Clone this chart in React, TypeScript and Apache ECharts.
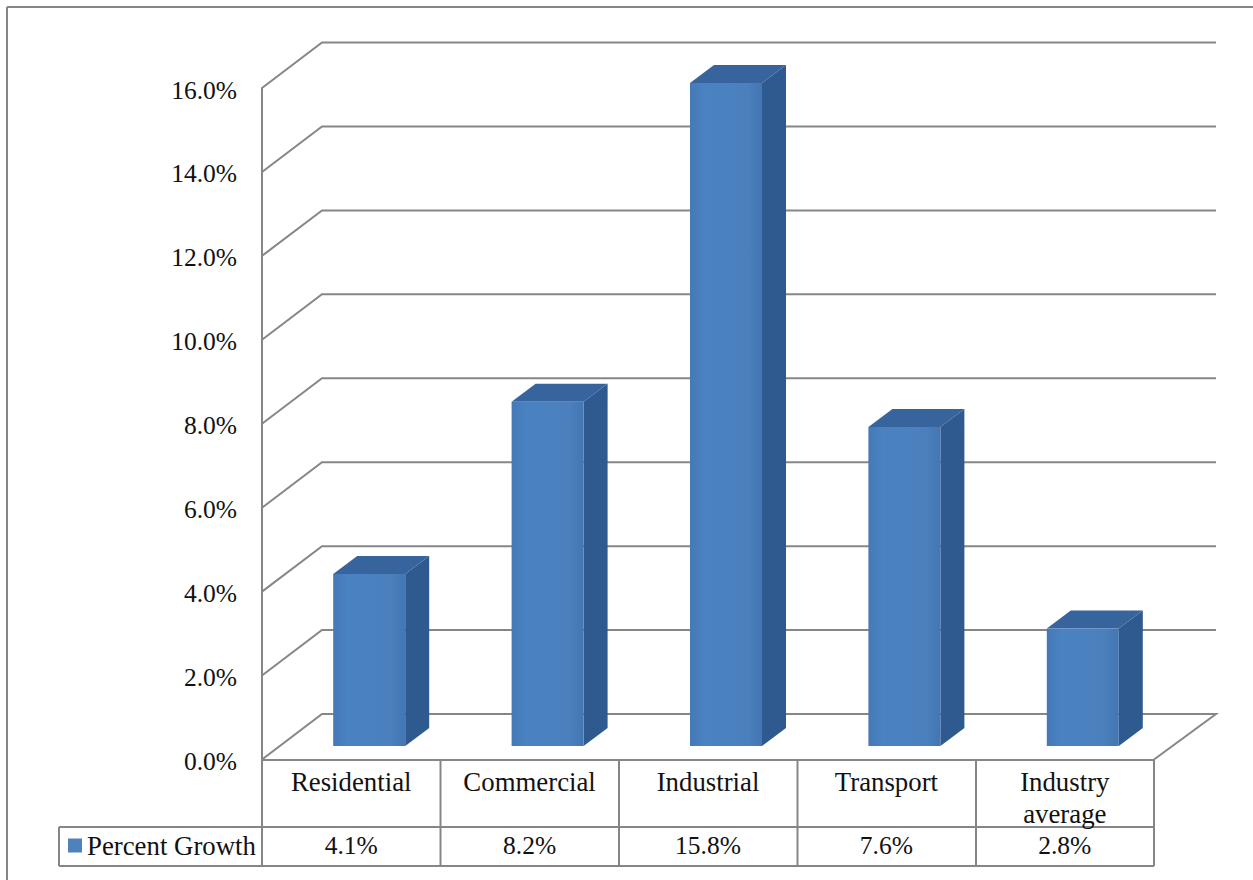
import React, { useEffect, useRef } from "react";
import * as echarts from "echarts";

const categories = ["Residential", "Commercial", "Industrial", "Transport", "Industry\naverage"];
const percentGrowth = [4.1, 8.2, 15.8, 7.6, 2.8];
const gridTicks = [0, 2, 4, 6, 8, 10, 12, 14, 16];
const seriesName = "Percent Growth";

const FONT = "'Liberation Serif', 'Times New Roman', serif";
const LINE = "#868686";
const WALL_DX = 60;
const WALL_DY = -45.5;

const tableRows: [number, number, number, number][] = [
  [59, 827, 1154, 827],
  [59, 866, 1154, 866],
  [59, 827, 59, 866],
  [262, 760, 262, 866],
  [440.5, 760, 440.5, 866],
  [619, 760, 619, 866],
  [797.5, 760, 797.5, 866],
  [976, 760, 976, 866],
  [1154, 760, 1154, 866],
];

function renderWall(params: any, api: any) {
  const v = api.value(0);
  const start = api.coord([0, v]);
  const left = params.coordSys.x;
  const right = left + params.coordSys.width;
  const y = start[1];
  return {
    type: "polyline",
    silent: true,
    shape: {
      points: [
        [left, y],
        [left + WALL_DX, y + WALL_DY],
        [right + WALL_DX + 2, y + WALL_DY],
        ...(v === 0 ? [[right, y]] : []),
      ],
    },
    style: { stroke: LINE, fill: "none", lineWidth: 2 },
  };
}

function renderBar(_params: any, api: any) {
  const top = api.coord([api.value(0), api.value(1)]);
  const base = api.coord([api.value(0), 0]);
  const halfWidth = 36;
  const cx = top[0] + 18;
  const shiftY = -13.5;
  const depthX = 24;
  const depthY = -18;
  const x0 = cx - halfWidth;
  const x1 = cx + halfWidth;
  const yTop = top[1] + shiftY;
  const yBase = base[1] + shiftY;
  const front = new echarts.graphic.LinearGradient(0, 0, 1, 0, [
    { offset: 0, color: "#4579b6" },
    { offset: 0.2, color: "#4a82c2" },
    { offset: 0.8, color: "#4b80bd" },
    { offset: 1, color: "#4376b2" },
  ]);
  return {
    type: "group",
    children: [
      {
        type: "polygon",
        shape: { points: [[x1, yTop], [x1 + depthX, yTop + depthY], [x1 + depthX, yBase + depthY], [x1, yBase]] },
        style: { fill: "#2f5a8f" },
      },
      {
        type: "polygon",
        shape: { points: [[x0, yTop], [x0 + depthX, yTop + depthY], [x1 + depthX, yTop + depthY], [x1, yTop]] },
        style: { fill: "#37649c" },
      },
      {
        type: "rect",
        shape: { x: x0, y: yTop, width: x1 - x0, height: yBase - yTop },
        style: { fill: front },
      },
    ],
  };
}

export default function App() {
  const ref = useRef<HTMLDivElement>(null);

  useEffect(() => {
    const chart = echarts.init(ref.current!, undefined, { renderer: "svg" });
    const tableStyle = { stroke: LINE, lineWidth: 2 };
    chart.setOption({
      animation: false,
      backgroundColor: "#ffffff",
      grid: { left: 262, top: 88, width: 892, height: 671.5, containLabel: false },
      legend: {
        left: 68,
        top: 832,
        itemWidth: 14,
        itemHeight: 14,
        itemGap: 0,
        icon: "rect",
        padding: 0,
        data: [seriesName],
        selectedMode: false,
        textStyle: { fontFamily: FONT, fontSize: 26.8, color: "#111111", padding: [0, 0, 0, 0] },
      },
      xAxis: [
        {
          type: "category",
          data: categories,
          position: "bottom",
          axisLine: { show: false },
          axisTick: { show: false },
          axisLabel: {
            interval: 0,
            margin: 6,
            fontFamily: FONT,
            fontSize: 26.8,
            lineHeight: 32,
            color: "#111111",
            verticalAlign: "top",
          },
        },
        {
          type: "category",
          data: percentGrowth.map((v) => v.toFixed(1) + "%"),
          position: "bottom",
          offset: 73,
          axisLine: { show: false },
          axisTick: { show: false },
          axisLabel: {
            interval: 0,
            margin: 0,
            fontFamily: FONT,
            fontSize: 25.5,
            color: "#111111",
            verticalAlign: "top",
          },
        },
      ],
      yAxis: {
        type: "value",
        min: 0,
        max: 16,
        interval: 2,
        axisLine: { show: true, lineStyle: { color: LINE, width: 2 } },
        axisTick: { show: false },
        splitLine: { show: false },
        axisLabel: {
          margin: 25,
          fontFamily: FONT,
          fontSize: 25.5,
          color: "#111111",
          verticalAlign: "top",
          lineHeight: 4,
          formatter: (v: number) => v.toFixed(1) + "%",
        },
      },
      series: [
        {
          type: "custom",
          name: "walls",
          silent: true,
          clip: false,
          renderItem: renderWall,
          data: gridTicks.map((v) => [v]),
          encode: { y: 0 },
          z: 1,
        },
        {
          type: "custom",
          name: seriesName,
          clip: false,
          renderItem: renderBar,
          itemStyle: { color: "#4f81bd" },
          data: percentGrowth.map((v, i) => [i, v]),
          encode: { x: 0, y: 1 },
          z: 2,
        },
      ],
      graphic: [
        { type: "line", shape: { x1: 7, y1: 7, x2: 1253, y2: 7 }, style: tableStyle, silent: true },
        { type: "line", shape: { x1: 7, y1: 7, x2: 7, y2: 880 }, style: tableStyle, silent: true },
        { type: "line", shape: { x1: 262, y1: 760, x2: 1154, y2: 760 }, style: tableStyle, silent: true },
        ...tableRows.map(([x1, y1, x2, y2]) => ({
          type: "line",
          shape: { x1, y1, x2, y2 },
          style: tableStyle,
          silent: true,
        })),
      ],
    });
    return () => chart.dispose();
  }, []);

  return <div ref={ref} style={{ position: "fixed", left: 0, top: 0, width: 1253, height: 880 }} />;
}
